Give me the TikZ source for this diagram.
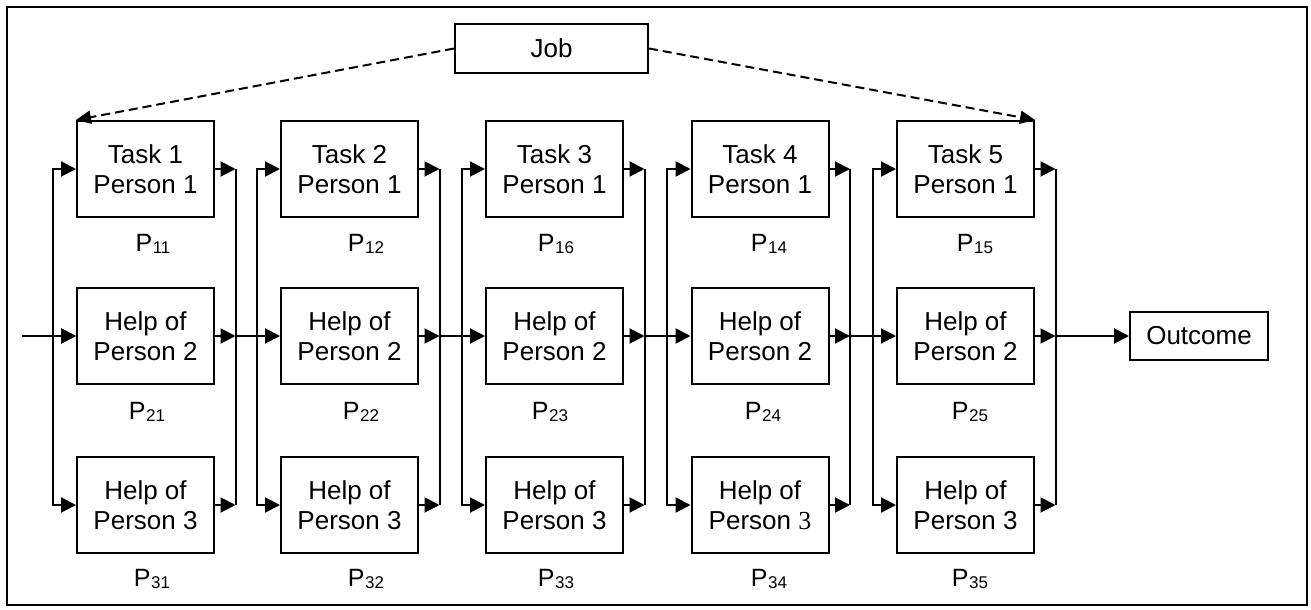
\documentclass[tikz,border=0pt]{standalone}
\usepackage{fontspec}
\setmainfont{Liberation Sans}
\newfontfamily\serifdigit{Liberation Serif}
\usetikzlibrary{arrows.meta}
\newcommand{\prob}[1]{P\kern0.5pt\raisebox{-2pt}{\fontsize{17}{17}\selectfont #1}}
\begin{document}
\begin{tikzpicture}[x=1pt,y=-1pt,
  line width=2pt,
  box/.style={draw, line width=2pt, minimum width=137pt, minimum height=96pt,
    inner sep=0pt, align=center, font=\fontsize{26}{30}\selectfont},
  smallbox/.style={draw, line width=2pt, inner sep=0pt, font=\fontsize{26}{30}\selectfont},
  plabel/.style={inner sep=0pt, font=\fontsize{25}{25}\selectfont},
  arr/.style={-{Triangle[length=15pt,width=15pt]}},
  dasharr/.style={dashed, dash pattern=on 9pt off 5pt, -{Triangle[length=15pt,width=13pt]}}]
\useasboundingbox (0,0) rectangle (1311,610);
% outer frame
\draw[line width=2.2pt] (7,7) rectangle (1307,605);

% job and outcome
\node[smallbox, minimum width=193pt, minimum height=49pt] (job) at (551.5,48.5) {Job};
\node[smallbox, minimum width=138pt, minimum height=48pt] (out) at (1199,336) {Outcome};

% the five task columns
\foreach \c/\x/\three in {1/145.5/3, 2/349.5/3, 3/554.5/3, 4/760/{\serifdigit 3}, 5/965.5/3}{
  \node[box] (t\c)  at (\x,169) {Task \c\\Person 1};
  \node[box] (h2\c) at (\x,336) {Help of\\Person 2};
  \node[box] (h3\c) at (\x,505) {Help of\\Person \three};
  \coordinate (lt\c) at (\x-93,169);
  \coordinate (lm\c) at (\x-93,336);
  \coordinate (lb\c) at (\x-93,505);
  \coordinate (rt\c) at (\x+90,169);
  \coordinate (rm\c) at (\x+90,336);
  \coordinate (rb\c) at (\x+90,505);
  % split into the three parallel branches
  \draw[arr] (lm\c) |- (t\c.west);
  \draw[arr] (lm\c) |- (h3\c.west);
  \draw[arr] (lm\c) -- (h2\c.west);
  % merge the branches again
  \draw (rt\c) -- (rb\c);
  \draw[arr] (t\c.east) -- (rt\c);
  \draw[arr] (h2\c.east) -- (rm\c);
  \draw[arr] (h3\c.east) -- (rb\c);
}

% links between consecutive columns
\foreach \a/\b in {1/2, 2/3, 3/4, 4/5}{
  \draw (rm\a) -- (lm\b);
}
\coordinate (in) at (22,336);
\draw[arr] (in) -- (h21.west);
\draw[arr] (rm5) -- (out.west);

% job assignment
\draw[dasharr] (job.west) -- (t1.north west);
\draw[dasharr] (job.east) -- (t5.north east);

% branch probabilities
\node[plabel] (p11) at (153,244) {\prob{11}};
\node[plabel] (p12) at (366,244) {\prob{12}};
\node[plabel] (p16) at (556,244) {\prob{16}};
\node[plabel] (p14) at (769,244) {\prob{14}};
\node[plabel] (p15) at (975,244) {\prob{15}};
\node[plabel] (p21) at (147,412) {\prob{21}};
\node[plabel] (p22) at (361,412) {\prob{22}};
\node[plabel] (p23) at (550,412) {\prob{23}};
\node[plabel] (p24) at (763,412) {\prob{24}};
\node[plabel] (p25) at (970,412) {\prob{25}};
\node[plabel] (p31) at (152,579) {\prob{31}};
\node[plabel] (p32) at (366,579) {\prob{32}};
\node[plabel] (p33) at (556,579) {\prob{33}};
\node[plabel] (p34) at (769,579) {\prob{34}};
\node[plabel] (p35) at (970,579) {\prob{35}};
\end{tikzpicture}
\end{document}
